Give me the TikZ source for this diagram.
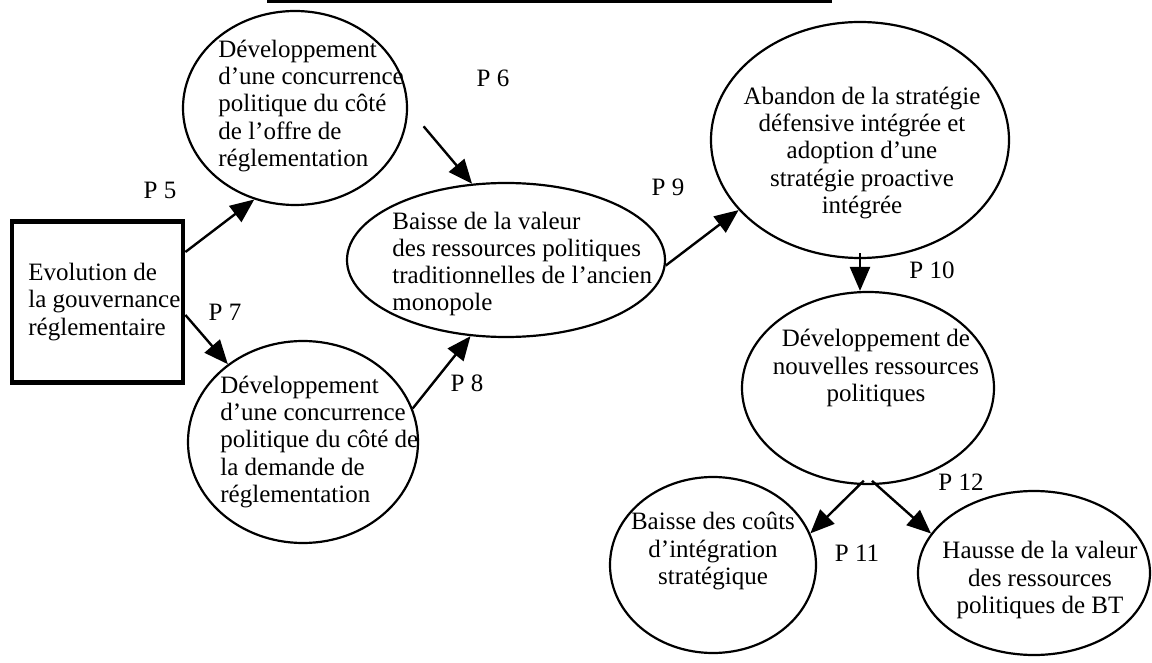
\documentclass[tikz,border=0pt]{standalone}
\usepackage{fontspec}
\setmainfont{Liberation Serif}
\usetikzlibrary{arrows.meta,shapes.geometric}
\tikzset{
  bulle/.style={draw, ellipse, line width=1.1pt, inner sep=0pt},
  texte/.style={font=\fontsize{12.5}{13.6}\selectfont, inner sep=0pt},
  fleche/.style={-{Triangle[length=12pt,width=10pt]}, line width=1.2pt},
}
\begin{document}
\begin{tikzpicture}[x=0.5pt,y=-0.5pt]
    \useasboundingbox (0,0) rectangle (1152,663);
    \draw[line width=1.5pt] (267,1.5)--(832,1.5);

    % boite de depart
    \node[draw, line width=2.4pt, minimum width=85.5pt, minimum height=80.5pt] (regl) at (97.5,302) {};
    \node[texte, align=left, anchor=west] (regl-t) at (28,302) {Evolution de\\la gouvernance\\réglementaire};

    % ellipses
    \node[bulle, minimum width=112pt, minimum height=97pt] (offre) at (295,108) {};
    \node[texte, align=left, anchor=west] (offre-t) at (218,106) {Développement\\d’une concurrence\\politique du côté\\de l’offre de\\réglementation};
    \node[bulle, minimum width=115pt, minimum height=101pt] (demande) at (303,442) {};
    \node[texte, align=left, anchor=west] (demande-t) at (220,442) {Développement\\d’une concurrence\\politique du côté de\\la demande de\\réglementation};
    \node[bulle, minimum width=159pt, minimum height=77pt] (baisse) at (506,260) {};
    \node[texte, align=left, anchor=west] (baisse-t) at (392,264) {Baisse de la valeur\\des ressources politiques\\traditionnelles de l’ancien\\monopole};
    \node[bulle, minimum width=149pt, minimum height=118pt] (abandon) at (860,140) {};
    \node[texte, align=center] (abandon-t) at (862,153) {Abandon de la stratégie\\défensive intégrée et\\adoption d’une\\stratégie proactive\\intégrée};
    \node[bulle, minimum width=126pt, minimum height=96pt] (nouvelles) at (868,388) {};
    \node[texte, align=center] (nouvelles-t) at (876,368) {Développement de\\nouvelles ressources\\politiques};
    \node[bulle, minimum width=103pt, minimum height=88pt] (couts) at (713,565) {};
    \node[texte, align=center] (couts-t) at (713,551) {Baisse des coûts\\d’intégration\\stratégique};
    \node[bulle, minimum width=116pt, minimum height=82pt] (hausse) at (1034,573) {};
    \node[texte, align=center] (hausse-t) at (1040,580) {Hausse de la valeur\\des ressources\\politiques de BT};

    % propositions
    \node[texte] (p5) at (160,190) {P 5};
    \node[texte] (p6) at (493,78) {P 6};
    \node[texte] (p7) at (225,312) {P 7};
    \node[texte] (p8) at (467,383) {P 8};
    \node[texte] (p9) at (668,187) {P 9};
    \node[texte] (p10) at (932,270) {P 10};
    \node[texte] (p11) at (857,553) {P 11};
    \node[texte] (p12) at (961,482) {P 12};

    % fleches
    \draw[fleche] ([yshift=25pt]regl.east) -- (offre.246);
    \draw[fleche] ([yshift=-6.5pt]regl.east) -- (demande.134);
    \draw[fleche, shorten <=12pt] (offre.0) -- (baisse.114);
    \draw[fleche] (demande.17) -- (baisse.245);
    \draw[fleche] (baisse.-2) -- (abandon.210);
    \draw[fleche, shorten <=-3pt] (abandon.south) -- (abandon.south |- nouvelles.north);
    \draw[fleche, shorten <=-3pt] (nouvelles.-95) -- (couts.18);
    \draw[fleche, shorten <=-3pt] (nouvelles.-85) -- (hausse.159);
\end{tikzpicture}
\end{document}
